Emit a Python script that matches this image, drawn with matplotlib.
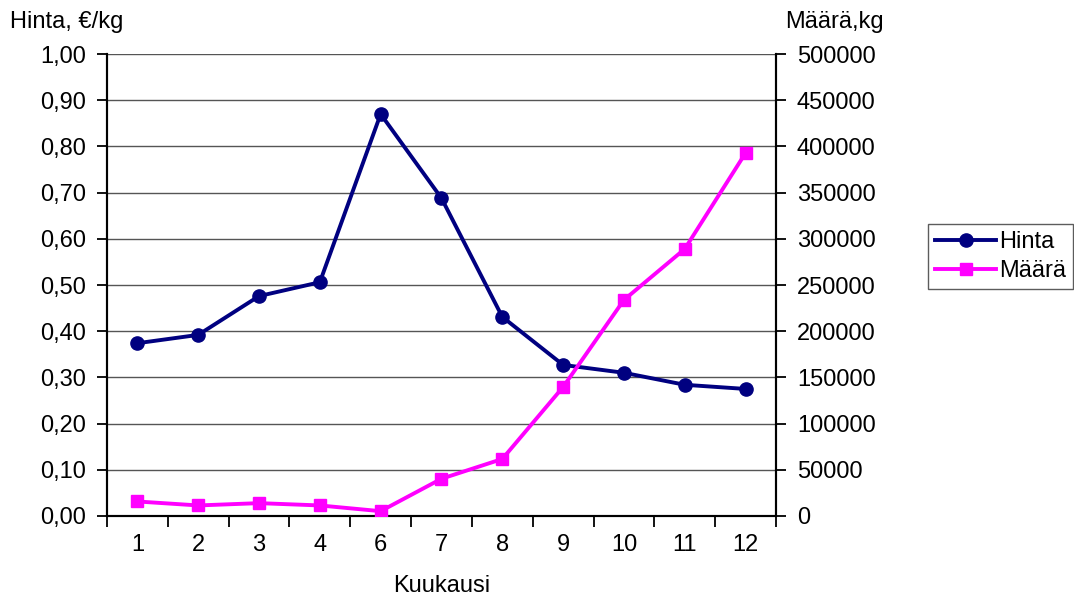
import matplotlib
matplotlib.use("Agg")
from matplotlib import pyplot as plt
from matplotlib.ticker import FixedLocator, FuncFormatter

plt.rcParams['font.family'] = ['Liberation Sans', 'DejaVu Sans']

# monthly data (month 5 missing)
months = ["1", "2", "3", "4", "6", "7", "8", "9", "10", "11", "12"]
hinta = [0.374, 0.392, 0.476, 0.506, 0.870, 0.688, 0.431, 0.327, 0.310, 0.284, 0.275]
maara = [15700, 11400, 13900, 11400, 5200, 40300, 61700, 139600, 233800, 289000, 392900]

navy = "#000080"
magenta = "#ff00ff"
fs = 17

fig = plt.figure(figsize=(10.74, 5.99), dpi=100)
ax = fig.add_axes([0.0996, 0.1386, 0.6229, 0.7712])
ax2 = ax.twinx()

x = list(range(len(months)))
l1, = ax.plot(x, hinta, color=navy, lw=2.8, marker="o", ms=9.5, label="Hinta", zorder=3)
l2, = ax2.plot(x, maara, color=magenta, lw=2.8, marker="s", ms=9, label="Määrä", zorder=3)

ax.set_xlim(-0.5, len(months) - 0.5)
ax.set_ylim(0, 1.0)
ax2.set_ylim(0, 500000)

ax.set_yticks([i / 10 for i in range(11)])
ax.yaxis.set_major_formatter(FuncFormatter(lambda v, p: f"{v:.2f}".replace(".", ",")))
ax2.set_yticks(range(0, 500001, 50000))

# category labels centred, tick marks on the boundaries
ax.set_xticks(x)
ax.set_xticklabels(months)
ax.xaxis.set_minor_locator(FixedLocator([i - 0.5 for i in range(len(months) + 1)]))
ax.tick_params(axis="x", which="major", length=0, pad=13, labelsize=fs)
ax.tick_params(axis="x", which="minor", length=8, width=1.3, direction="out")
ax.tick_params(axis="y", length=7, width=1.3, direction="out", labelsize=fs, pad=8)
ax2.tick_params(axis="y", length=7, width=1.3, direction="out", labelsize=fs, pad=8)

ax.grid(axis="y", color="#555555", lw=1.0)
ax.set_axisbelow(True)
for a in (ax, ax2):
    a.spines["top"].set_visible(False)
    for s in ("left", "right", "bottom"):
        a.spines[s].set_linewidth(1.5)
        a.spines[s].set_color("black")

fig.text(0.009, 0.963, "Hinta, €/kg", fontsize=fs, ha="left", va="center")
fig.text(0.731, 0.963, "Määrä,kg", fontsize=fs, ha="left", va="center")
fig.text(0.411, 0.022, "Kuukausi", fontsize=fs, ha="center", va="center")

leg = fig.legend([l1, l2], ["Hinta", "Määrä"], loc="upper left",
                 bbox_to_anchor=(0.864, 0.626), fontsize=fs, frameon=True,
                 fancybox=False, handlelength=2.6, handletextpad=0.12,
                 borderpad=0.3, labelspacing=0.3, borderaxespad=0)
leg.get_frame().set_edgecolor("#333333")
leg.get_frame().set_linewidth(1.0)

fig.savefig("out.png", dpi=100)
